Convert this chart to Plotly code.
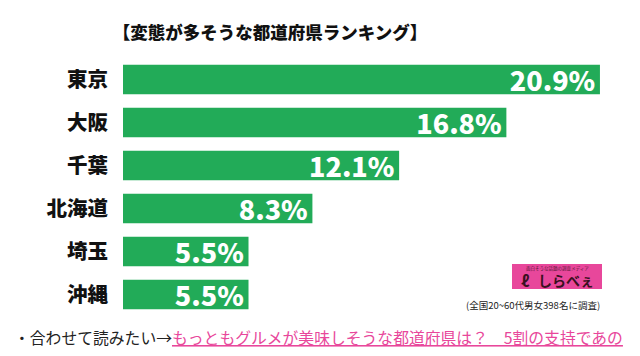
import plotly.graph_objects as go

categories = ["東京", "大阪", "千葉", "北海道", "埼玉", "沖縄"]
values = [20.9, 16.8, 12.1, 8.3, 5.5, 5.5]
value_labels = ["20.9%", "16.8%", "12.1%", "8.3%", "5.5%", "5.5%"]

title_text = "【変態が多そうな都道府県ランキング】"
note_text = "(全国20~60代男女398名に調査)"
footer_prefix = "・合わせて読みたい→"
footer_link = "もっともグルメが美味しそうな都道府県は？　5割の支持であの"

# the page body has an 8px default margin; the figure is sized to fill the rest
OFF = 8
W, H = 640 - OFF, 356 - OFF
L, R, T, B = 123 - OFF, 17, 58 - OFF, 40
pw, ph = W - L - R, H - T - B

def px(x):
    return (x - OFF - L) / pw

def py(y):
    return (H - B - (y - OFF)) / ph

GREEN = "#22ab58"
PINK = "#e8479b"
JP = "Noto Sans CJK JP"

fig = go.Figure()
fig.add_trace(go.Bar(
    x=values, y=categories, orientation="h",
    marker=dict(color=GREEN, line=dict(width=0)),
    text=[t + "\u200a" for t in value_labels], textposition="inside", insidetextanchor="end",
    constraintext="none",
    textfont=dict(family=JP, size=27, color="white", weight=900),
    hoverinfo="skip", width=0.685,
))

fig.update_layout(
    width=W, height=H,
    margin=dict(l=L, r=R, t=T, b=B),
    paper_bgcolor="white", plot_bgcolor="white",
    showlegend=False,
    xaxis=dict(range=[0, pw / 22.82], visible=False, fixedrange=True),
    yaxis=dict(categoryorder="array", categoryarray=categories,
               range=[5.5, -0.5], showgrid=False, zeroline=False, showline=False,
               ticks="", ticklabelstandoff=14,
               tickfont=dict(family=JP, size=20.5, color="#111111", weight=900)),
    title=dict(text=title_text, x=(270 - OFF) / W, y=1 - (33 - OFF) / H,
               xref="container", yref="container",
               xanchor="center", yanchor="middle",
               font=dict(family=JP, size=17.5, color="#111111", weight=900)),
)

# logo box
fig.add_shape(type="rect", xref="paper", yref="paper",
              x0=px(512), x1=px(602), y0=py(289), y1=py(264),
              fillcolor=PINK, line=dict(width=0), layer="above")
fig.add_annotation(xref="paper", yref="paper", x=px(557), y=py(268.5),
                   text="面白そうな話題の調査メディア", showarrow=False,
                   font=dict(family=JP, size=4.5, color="#5a1a3a"),
                   xanchor="center", yanchor="middle")
fig.add_annotation(xref="paper", yref="paper", x=px(536), y=py(280),
                   text="<b>しらべぇ</b>", showarrow=False,
                   font=dict(family=JP, size=14, color="#3a1020"),
                   xanchor="left", yanchor="middle")
fig.add_annotation(xref="paper", yref="paper", x=px(525), y=py(280),
                   text="<b>ℓ</b>", showarrow=False,
                   font=dict(family=JP, size=16, color="#3a1020"),
                   xanchor="center", yanchor="middle")
fig.add_annotation(xref="paper", yref="paper", x=px(602), y=py(305),
                   text=note_text, showarrow=False,
                   font=dict(family=JP, size=9.5, color="#222222"),
                   xanchor="right", yanchor="middle")

# footer
fig.add_annotation(xref="paper", yref="paper", x=px(12), y=py(337),
                   text=footer_prefix + "<span style='color:" + PINK + "'><u>" + footer_link + "</u></span>",
                   showarrow=False,
                   font=dict(family=JP, size=15.8, color="#222222"),
                   xanchor="left", yanchor="middle")

fig.write_html("out.html")
